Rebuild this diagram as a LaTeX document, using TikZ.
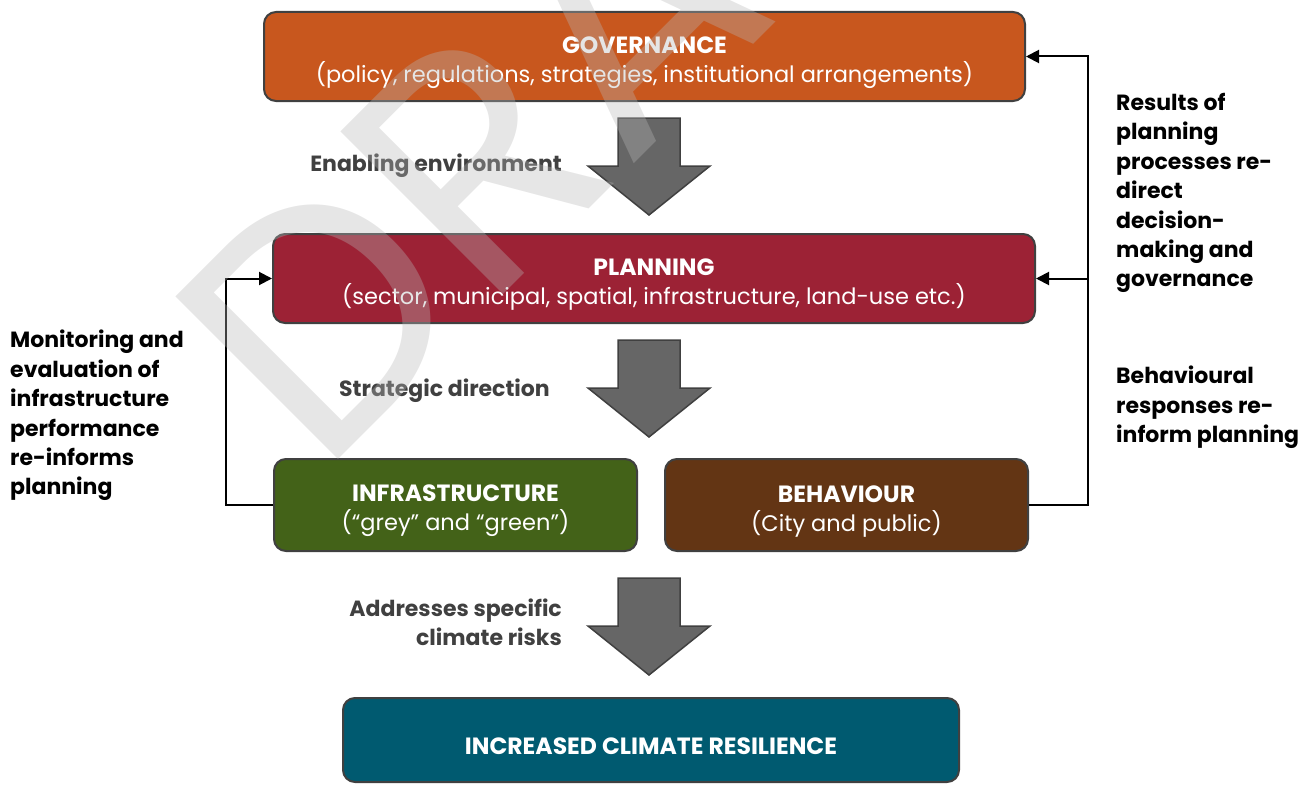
\documentclass[tikz,border=0pt]{standalone}
\usepackage{fontspec}
\setmainfont{Poppins}
\usetikzlibrary{positioning,arrows.meta}

\definecolor{govorange}{RGB}{200,87,30}
\definecolor{planred}{RGB}{156,34,53}
\definecolor{infragreen}{RGB}{67,98,24}
\definecolor{behbrown}{RGB}{99,53,20}
\definecolor{restea}{RGB}{0,90,112}
\definecolor{boxedge}{RGB}{64,64,64}
\definecolor{arrowgrey}{RGB}{102,102,102}
\definecolor{labelgrey}{RGB}{64,64,64}
\definecolor{wmgrey}{RGB}{183,183,183}

% bold first line of a box, with a strut that sets the text a little lower
\newcommand{\stagehead}[1]{{\rule{0pt}{29pt}\bfseries\fontsize{23.5}{29}\selectfont #1}}

\tikzset{
  stage/.style={draw=boxedge, line width=2pt, rounded corners=12pt, text=white,
    align=center, inner sep=0pt, font=\fontsize{22.5}{29}\selectfont},
  bigarrow/.style={fill=arrowgrey, draw=boxedge, line width=1.5pt, line join=miter},
  link/.style={line width=2pt, -{Triangle[length=13pt,width=13pt]}},
  steplabel/.style={text=labelgrey, font=\bfseries\fontsize{22}{29}\selectfont,
    align=right, anchor=east, inner sep=0pt},
  sidelabel/.style={font=\bfseries\fontsize{22}{29.4}\selectfont,
    align=left, anchor=north west, inner sep=0pt},
  watermark/.style={text=wmgrey, text opacity=0.35, inner sep=0pt,
    font=\fontsize{330}{330}\selectfont}
}

\begin{document}
\begin{tikzpicture}[x=1pt, y=-1pt]
\useasboundingbox (0,0) rectangle (1311,784);

\node [stage, fill=govorange, minimum width=761pt, minimum height=89pt] (gov) at (644.5,56.5)
  {\stagehead{GOVERNANCE}\\(policy, regulations, strategies, institutional arrangements)};
\node [stage, fill=planred, minimum width=762pt, minimum height=89pt] (plan) at (654,278.5)
  {\stagehead{PLANNING}\\(sector, municipal, spatial, infrastructure, land-use etc.)};
\node [stage, fill=infragreen, minimum width=363pt, minimum height=92pt] (infra) at (455.5,505)
  {\stagehead{INFRASTRUCTURE}\\(“grey” and “green”)};
\node [stage, fill=behbrown, minimum width=363pt, minimum height=92pt] (beh) at (846.5,505)
  {\stagehead{BEHAVIOUR}\\(City and public)};
\node [stage, fill=restea, minimum width=616pt, minimum height=84pt] (res) at (651,740)
  {\stagehead{INCREASED CLIMATE RESILIENCE}};

\foreach \y in {118,340,578}
  \draw [bigarrow] (618,\y) -- (680,\y) -- (680,\y+48) -- (710,\y+48)
    -- (649,\y+97) -- (588,\y+48) -- (618,\y+48) -- cycle;

\node [steplabel] (enable) at (562,166) {Enabling environment};
\node [steplabel] (strat) at (550,391) {Strategic direction};
\node [steplabel] (address) at (562,622) {Addresses specific\\climate risks};

\coordinate (rtop) at (1088,56.5);
\coordinate (rmid) at (1088,278.5);
\coordinate (lcorner) at (226,278.5);

\draw [link] (beh.east) -| (rtop) -- (gov.east);
\draw [link] (rmid) -- (plan.east);
\draw [link] (infra.west) -| (lcorner) -- (plan.west);

\node [sidelabel] (results) at (1116,93)
  {Results of\\planning\\processes re-\\direct\\decision-\\making and\\governance};
\node [sidelabel] (behresp) at (1116,366)
  {Behavioural\\responses re-\\inform planning};
\node [sidelabel] (monitor) at (10,330)
  {Monitoring and\\evaluation of\\infrastructure\\performance\\re-informs\\planning};

\node [watermark, rotate=45, anchor=base west] (draft) at (320,478) {DRAFT};
\end{tikzpicture}
\end{document}
